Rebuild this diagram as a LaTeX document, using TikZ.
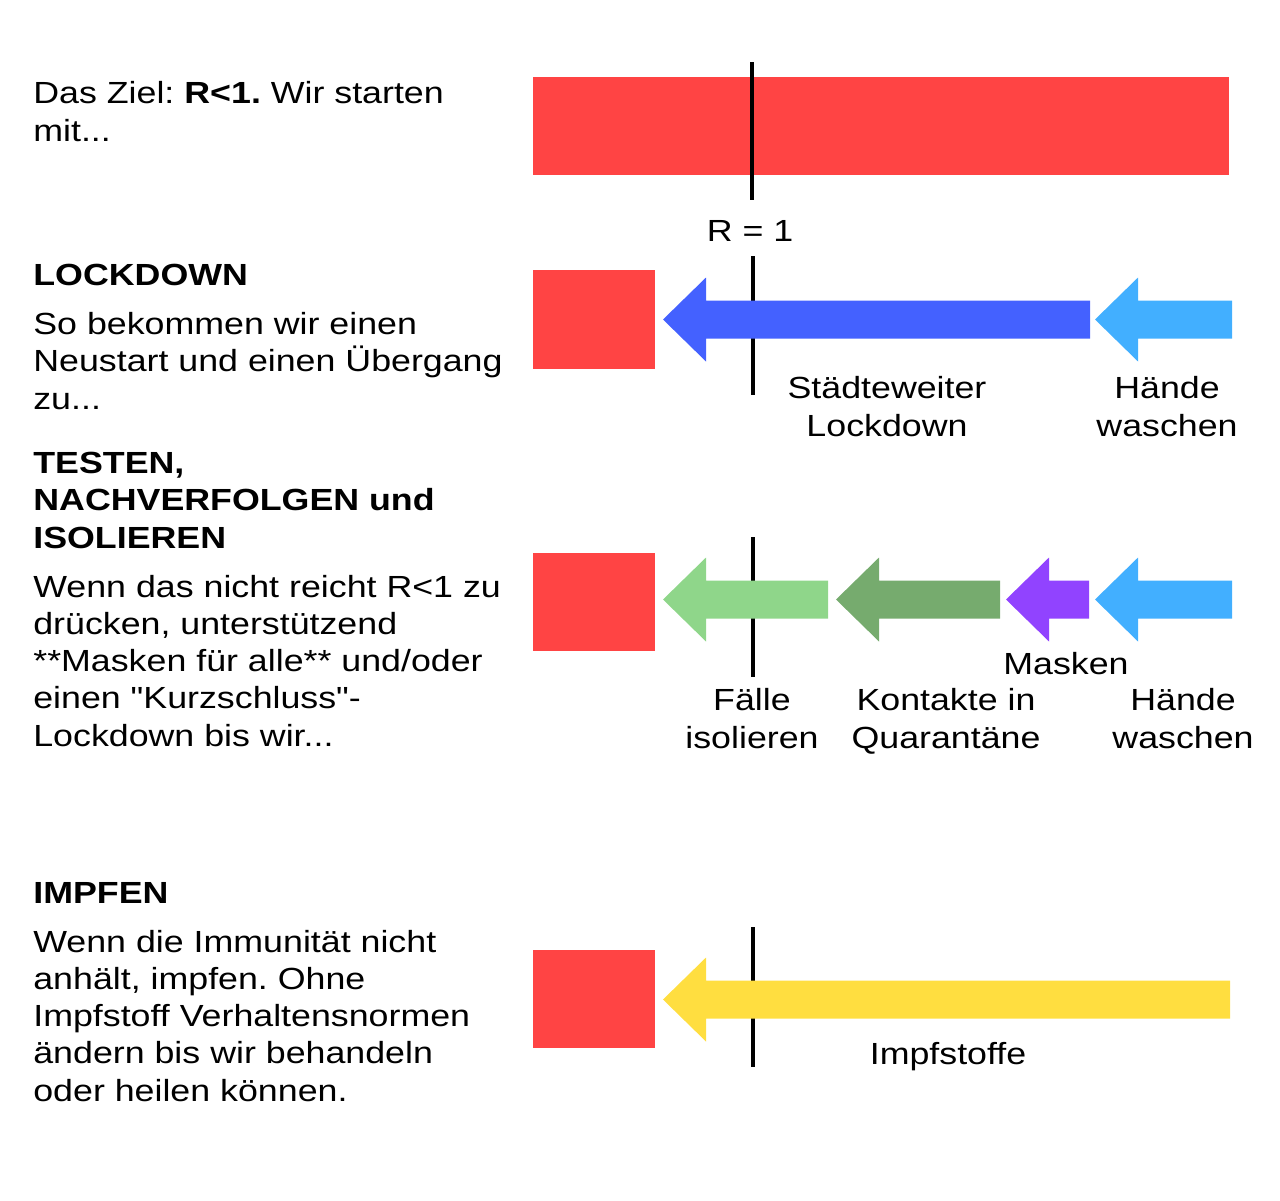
\documentclass[tikz,border=0pt]{standalone}
\usepackage{fontspec}
\setmainfont{Liberation Sans}[FakeStretch=1.17,Ligatures=TeXOff]
\frenchspacing
\definecolor{rot}{HTML}{FF4444}
\definecolor{blau}{HTML}{4461FF}
\definecolor{hellblau}{HTML}{42AFFF}
\definecolor{hellgruen}{HTML}{8FD68A}
\definecolor{dunkelgruen}{HTML}{76AB6E}
\definecolor{lila}{HTML}{9143FF}
\definecolor{gelb}{HTML}{FFDE40}
\newcommand\schrift{\fontsize{17.4}{21.2}\selectfont}
% fat arrow: colour, tip x, head back x, tail x, middle y
\newcommand\pfeil[5]{%
  \fill[#1] (#2,#5) -- (#3,#5-42) -- (#3,#5-19) -- (#4,#5-19)
    -- (#4,#5+19) -- (#3,#5+19) -- (#3,#5+42) -- cycle;}
% nodes sit on the baseline of their last line
\tikzset{
  txt/.style={anchor=base west,align=left,inner sep=0pt,font=\schrift},
  lbl/.style={anchor=base,align=center,inner sep=0pt,font=\schrift},
  rlinie/.style={line width=1.8pt}
}
\begin{document}
\begin{tikzpicture}
    \begin{scope}[x=0.02cm,y=-0.02cm]
      \useasboundingbox (0,0) rectangle (1280,1200);
      % left column
      \node[txt] (ziel) at (33,141) {Das Ziel: \textbf{R<1.} Wir starten\\mit...};
      \node[txt] (lock) at (33,285) {\textbf{LOCKDOWN}};
      \node[txt] (locktxt) at (33,409) {So bekommen wir einen\\Neustart und einen Übergang\\zu...};
      \node[txt] (test) at (33,548) {\textbf{TESTEN,}\\\textbf{NACHVERFOLGEN und}\\\textbf{ISOLIEREN}};
      \node[txt] (testtxt) at (33,746) {Wenn das nicht reicht R<1 zu\\drücken, unterstützend\\**Masken für alle** und/oder\\einen "Kurzschluss"-\\Lockdown bis wir...};
      \node[txt] (impf) at (33,903) {\textbf{IMPFEN}};
      \node[txt] (impftxt) at (33,1101) {Wenn die Immunität nicht\\anhält, impfen. Ohne\\Impfstoff Verhaltensnormen\\ändern bis wir behandeln\\oder heilen können.};
    \end{scope}
    \begin{scope}[x=0.02cm,y=-0.02cm]
      % start
      \fill[rot] (533,77) rectangle (1229,175);
      \draw[rlinie] (752,62) -- (752,200);
      \node[lbl] (r1) at (750,241) {R = 1};
      % lockdown
      \fill[rot] (533,270) rectangle (655,369);
      \draw[rlinie] (753,256) -- (753,395);
      \pfeil{blau}{663}{706}{1090}{319.5}
      \pfeil{hellblau}{1095}{1138}{1232}{319.5}
      \node[lbl] (stadt) at (887,436) {Städteweiter\\Lockdown};
      \node[lbl] (haende) at (1167,436) {Hände\\waschen};
      % testen
      \fill[rot] (533,553) rectangle (655,651);
      \draw[rlinie] (753,537) -- (753,677);
      \pfeil{hellgruen}{663}{706}{828}{599.5}
      \pfeil{dunkelgruen}{836}{879}{1000}{599.5}
      \pfeil{lila}{1006}{1049}{1089}{599.5}
      \pfeil{hellblau}{1095}{1138}{1232}{599.5}
      \node[lbl] (masken) at (1066,674) {Masken};
      \node[lbl] (faelle) at (752,748) {Fälle\\isolieren};
      \node[lbl] (kontakte) at (946,748) {Kontakte in\\Quarantäne};
      \node[lbl] (haende2) at (1183,748) {Hände\\waschen};
      % impfen
      \fill[rot] (533,950) rectangle (655,1048);
      \draw[rlinie] (753,927) -- (753,1067);
      \pfeil{gelb}{663}{706}{1230}{999.5}
      \node[lbl] (stoffe) at (948,1064) {Impfstoffe};
    \end{scope}
\end{tikzpicture}
\end{document}
